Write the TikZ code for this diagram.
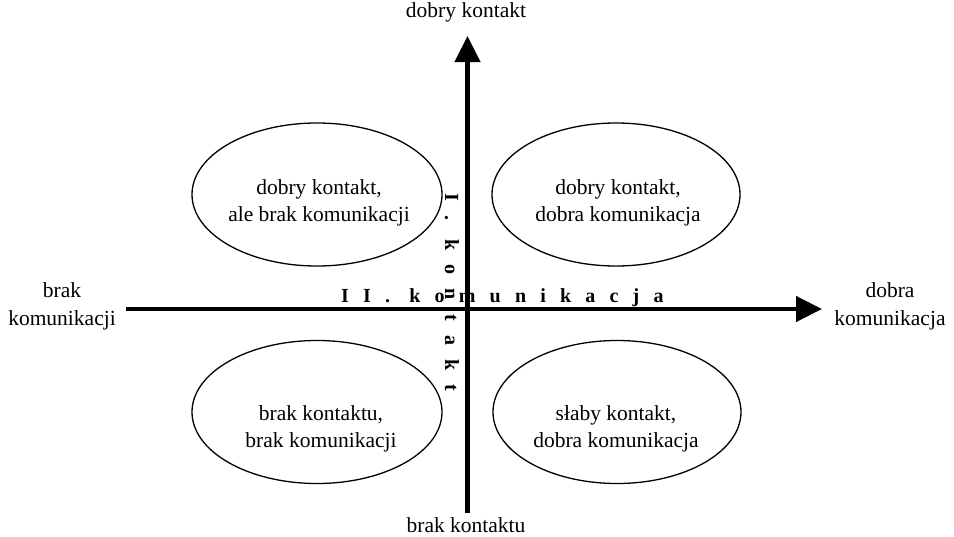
\documentclass[tikz,border=0pt]{standalone}
\usepackage{fontspec}
\setmainfont{Liberation Serif}
\usetikzlibrary{shapes.geometric,arrows.meta}
\begin{document}
\begin{tikzpicture}[x=1pt,y=-1pt,
  oval/.style={ellipse,draw,line width=1.3pt,minimum width=250pt,minimum height=143pt,inner sep=0pt},
  txt/.style={font=\fontsize{21.5}{27}\selectfont,align=center,inner sep=0pt,anchor=base},
  side/.style={txt,font=\fontsize{21.5}{28}\selectfont},
  axis/.style={line width=4.5pt,-{Triangle[length=26pt,width=25pt]}},
  spaced/.style={font=\fontsize{20}{24}\selectfont\bfseries\addfontfeature{LetterSpace=71},inner sep=0pt}]
\useasboundingbox (0,0) rectangle (954,536);
% axes
\coordinate (hl) at (126,309);
\coordinate (hr) at (822,309);
\coordinate (vb) at (467.5,513);
\coordinate (vt) at (467.5,36);
\draw[axis] (hl) -- (hr);
\draw[axis] (vb) -- (vt);
% ellipses
\node[oval] (tl) at (317,194.5) {};
\node[oval,minimum width=248pt] (tr) at (616,194.5) {};
\node[oval] (bl) at (317,412) {};
\node[oval,minimum width=248pt] (br) at (617,412) {};
% ellipse texts (anchor = baseline of last line)
\node[txt] (ttl) at (319,221) {dobry kontakt,\\ale brak komunikacji};
\node[txt] (ttr) at (618,221) {dobry kontakt,\\dobra komunikacja};
\node[txt] (tbl) at (321,447) {brak kontaktu,\\brak komunikacji};
\node[txt] (tbr) at (616,447) {słaby kontakt,\\dobra komunikacja};
% axis end labels
\node[txt] (top) at (466,17) {dobry kontakt};
\node[txt] (bot) at (466,532) {brak kontaktu};
\node[side] (left) at (62,325) {brak\\komunikacji};
\node[side] (right) at (890,325) {dobra\\komunikacja};
% axis names
\node[spaced,anchor=base west] (hname) at (341,302.5) {II. komunikacja};
\node[spaced,anchor=base west,rotate=-90] (vname) at (445,193) {I. kontakt};
\end{tikzpicture}
\end{document}
